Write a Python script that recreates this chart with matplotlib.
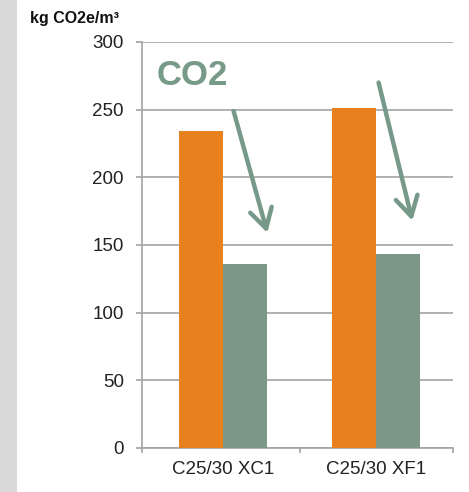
import numpy as np
import matplotlib.pyplot as plt
from matplotlib.patches import Rectangle

# %% Data ---------------------------------------------------------------------

categories = ['C25/30 XC1', 'C25/30 XF1']
reference = [234, 251]      # kg CO2e/m3, standard mix
reduced = [136, 143]        # kg CO2e/m3, low-carbon mix

y_ticks = [0, 50, 100, 150, 200, 250, 300]

# arrows: (x0, y0, x1, y1) in data coordinates
arrows = [(0.07, 249, 0.29, 159),
          (1.015, 270, 1.235, 168)]

ORANGE = '#E8801E'
GREEN = '#7C9788'
GRID = '#A3A3A3'

plt.rcParams['font.family'] = ['Liberation Sans', 'DejaVu Sans']

# %% Plot ---------------------------------------------------------------------

fig = plt.figure(figsize=(4.69, 4.92), dpi=100)
ax = fig.add_axes([142/469, 44/492, 311/469, 406/492])

# grey strip on the left edge
fig.patches.append(Rectangle((0, 0), 17/469, 1, transform=fig.transFigure,
                             facecolor='#D9D9D9', edgecolor='none', zorder=0))

x = np.arange(len(categories))
w = 0.286
ax.bar(x - w/2, reference, w, color=ORANGE, zorder=3)
ax.bar(x + w/2, reduced, w, color=GREEN, zorder=3)

ax.set_xlim(-0.527, 1.5)
ax.set_ylim(0, 300)
ax.set_yticks(y_ticks)
ax.yaxis.grid(True, color=GRID, linewidth=1.2, zorder=0)
ax.set_axisbelow(True)

# category axis: ticks between the groups, labels at group centres
ax.set_xticks([-0.527, 0.5, 1.5])
ax.set_xticklabels([])
ax.set_xticks(x, minor=True)
ax.set_xticklabels(categories, minor=True, fontsize=13.5, color='#222222')
ax.tick_params(axis='x', which='minor', length=0, pad=9)
ax.tick_params(axis='x', which='major', length=3.6, width=1.2, color=GRID)
ax.tick_params(axis='y', length=4.5, width=1.2, color=GRID, pad=8.5,
               labelsize=13.5, labelcolor='#222222')

for side in ('top', 'right'):
    ax.spines[side].set_visible(False)
for side in ('left', 'bottom'):
    ax.spines[side].set_color(GRID)
    ax.spines[side].set_linewidth(1.2)

# annotations
ax.text(-0.43, 268, 'CO2', color='#789A88', fontsize=25, fontweight='bold',
        ha='left', va='baseline')
for x0, y0, x1, y1 in arrows:
    ax.annotate('', xy=(x1, y1), xytext=(x0, y0),
                arrowprops=dict(arrowstyle='->,head_length=0.7,head_width=0.4',
                                color='#76998A', lw=3.2, mutation_scale=20,
                                shrinkA=0, shrinkB=0),
                zorder=5)

fig.text(30/469, 1 - 23.5/492, 'kg CO2e/m³', fontsize=11.5, fontweight='bold',
         ha='left', va='baseline', color='#111111')

fig.savefig('out.png', dpi=100)
